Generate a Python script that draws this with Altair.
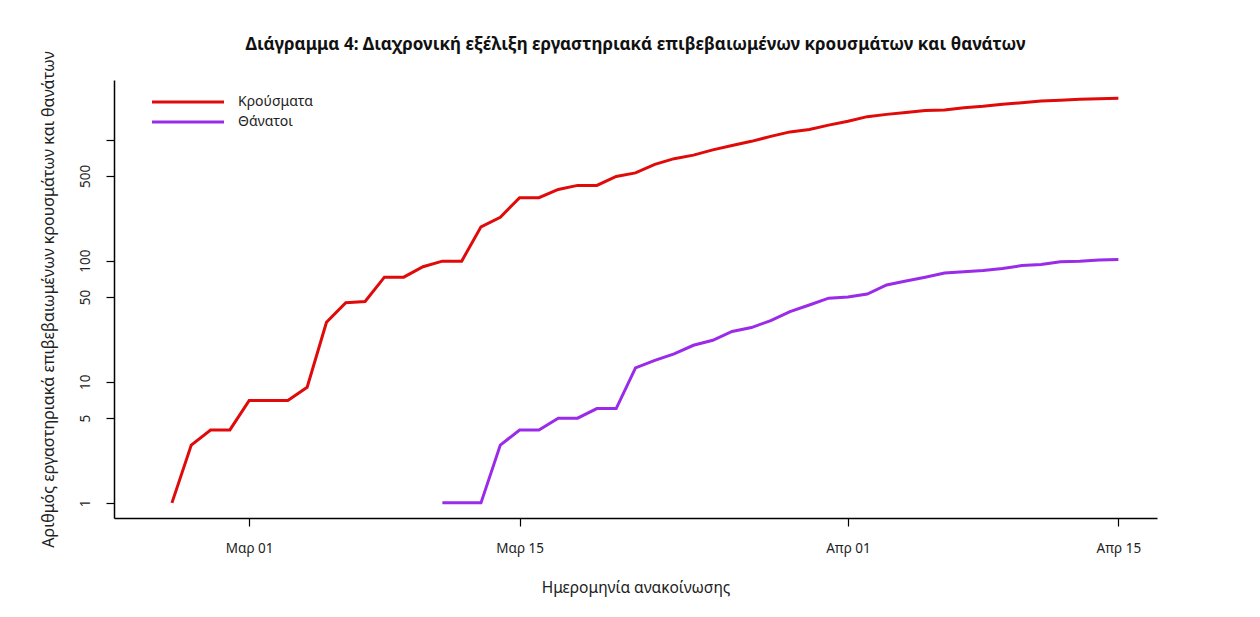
import altair as alt
import pandas as pd

# Data (cumulative, log scale)
cases_start = "2020-02-26"
cases = [1, 3, 4, 4, 7, 7, 7, 9, 31, 45, 46, 73, 73, 89, 99, 99, 190, 228, 331, 331,
         387, 418, 418, 495, 530, 624, 695, 743, 821, 892, 966, 1061, 1156, 1212, 1314,
         1415, 1544, 1613, 1673, 1735, 1755, 1832, 1884, 1955, 2011, 2081, 2114, 2145,
         2170, 2192]
deaths_start = "2020-03-11"
deaths = [1, 1, 1, 3, 4, 4, 5, 5, 6, 6, 13, 15, 17, 20, 22, 26, 28, 32, 38, 43, 49,
          50, 53, 63, 68, 73, 79, 81, 83, 86, 91, 93, 98, 99, 101, 102]
series_names = ["Κρούσματα", "Θάνατοι"]
series_colors = ["#e00a0a", "#9a2be8"]
y_ticks = [1, 5, 10, 50, 100, 500, 1000]

df_c = pd.DataFrame({
    "date": pd.date_range(cases_start, periods=len(cases), freq="D"),
    "value": cases,
    "series": series_names[0],
})
df_d = pd.DataFrame({
    "date": pd.date_range(deaths_start, periods=len(deaths), freq="D"),
    "value": deaths,
    "series": series_names[1],
})
df = pd.concat([df_c, df_d], ignore_index=True)
df["date"] = df["date"].dt.strftime("%Y-%m-%dT00:00:00")

FONT = "Noto Sans"

chart = alt.Chart(df).mark_line(strokeWidth=3).encode(
    x=alt.X(
        "date:T",
        scale=alt.Scale(domain=[alt.DateTime(year=2020, month=2, date=23),
                                alt.DateTime(year=2020, month=4, date=17)]),
        axis=alt.Axis(
            title="Ημερομηνία ανακοίνωσης",
            values=[alt.DateTime(year=2020, month=3, date=1),
                    alt.DateTime(year=2020, month=3, date=15),
                    alt.DateTime(year=2020, month=4, date=1),
                    alt.DateTime(year=2020, month=4, date=15)],
            labelExpr="(month(datum.value) == 2 ? 'Μαρ ' : 'Απρ ') + timeFormat(datum.value, '%d')",
            grid=False, tickSize=8, tickColor="black", domainColor="black",
            domainWidth=1.5, tickWidth=1.2, labelPadding=15, labelFontSize=13.5,
            labelColor="#222", titleFontSize=15.5, titleFontWeight="normal",
            titleColor="#222", titlePadding=26, labelFont=FONT, titleFont=FONT,
        ),
    ),
    y=alt.Y(
        "value:Q",
        scale=alt.Scale(type="log", domain=[0.75, 3100], nice=False),
        axis=alt.Axis(
            title="Αριθμός εργαστηριακά επιβεβαιωμένων κρουσμάτων και θανάτων",
            values=y_ticks,
            labelExpr="datum.value >= 1000 ? '' : format(datum.value, 'd')",
            labelAngle=270, labelAlign="center", labelBaseline="bottom",
            grid=False, tickSize=8, tickColor="black", domainColor="black",
            domainWidth=1.5, tickWidth=1.2, labelPadding=14, labelFontSize=13.5,
            labelColor="#222", titleFontSize=16, titleFontWeight="normal",
            titleColor="#222", titlePadding=22, labelFont=FONT, titleFont=FONT,
        ),
    ),
    color=alt.Color(
        "series:N",
        scale=alt.Scale(domain=series_names, range=series_colors),
        sort=series_names,
        legend=alt.Legend(
            title=None, orient="none", legendX=67, legendY=15,
            symbolType="M-7.2,0L7.2,0", symbolSize=100, symbolStrokeWidth=3,
            labelFontSize=14, labelFont=FONT, labelColor="#222",
            rowPadding=6, labelOffset=43,
        ),
    ),
).properties(
    width=1043,
    height=438,
    title=alt.TitleParams(
        "Διάγραμμα 4: Διαχρονική εξέλιξη εργαστηριακά επιβεβαιωμένων κρουσμάτων και θανάτων",
        fontSize=17, font=FONT, fontWeight="bold", color="#111", offset=-3,
        anchor="middle", frame="group",
    ),
    autosize=alt.AutoSizeParams(type="none"),
    padding={"left": 106, "top": 72, "right": 80, "bottom": 90},
).configure(background="white").configure_view(stroke=None)

chart.save("out.html", embed_options={"renderer": "svg", "actions": False})
